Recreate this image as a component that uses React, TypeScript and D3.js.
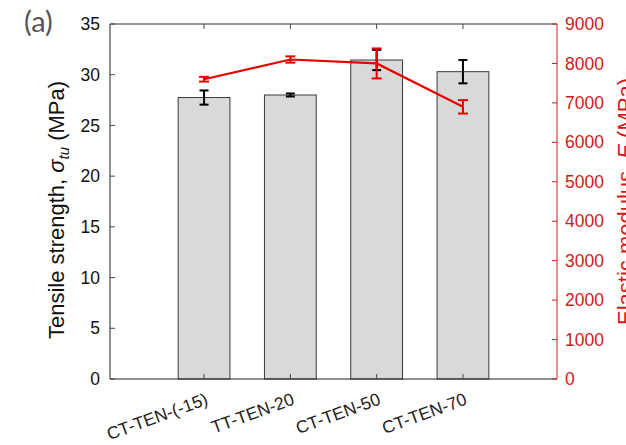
import React from "react";
import * as d3 from "d3";

// Specimen groups and measured properties
const categories = ["CT-TEN-(-15)", "TT-TEN-20", "CT-TEN-50", "CT-TEN-70"];
const strength = [27.75, 28.0, 31.45, 30.3]; // MPa
const strengthErr = [0.7, 0.15, 1.0, 1.15];
const modulus = [7600, 8100, 8000, 6900]; // MPa
const modulusErr = [60, 80, 380, 170];

const leftTicks = [0, 5, 10, 15, 20, 25, 30, 35];
const rightTicks = [0, 1000, 2000, 3000, 4000, 5000, 6000, 7000, 8000, 9000];

const W = 626;
const H = 445;
const plot = { left: 110, right: 557, top: 24, bottom: 379 };
const FONT = "'Liberation Sans', Arial, Helvetica, sans-serif";
const RED_LINE = "#e60000";
const RED_TEXT = "#d11a1a";

export default function App() {
  const idx = categories.map((_, i) => i + 1);
  const x = d3
    .scaleLinear()
    .domain([1 - 1.09, categories.length + 1.09])
    .range([plot.left, plot.right]);
  const yL = d3.scaleLinear().domain([0, 35]).range([plot.bottom, plot.top]);
  const yR = d3.scaleLinear().domain([0, 9000]).range([plot.bottom, plot.top]);
  const barW = x(1.6) - x(1);

  const line = d3
    .line<number>()
    .x((_, i) => x(idx[i]))
    .y((d) => yR(d));

  const cap = 4.5;

  return (
    <svg
      width={W}
      height={H}
      style={{ position: "absolute", left: 0, top: 0, background: "#fff" }}
      fontFamily={FONT}
    >
      <rect x={0} y={0} width={W} height={H} fill="#fff" />

      {/* panel tag */}
      <text x={24} y={32} fontFamily="Lato, 'Open Sans', sans-serif" fontSize={29} fill="#555">
        (a)
      </text>

      {/* bars */}
      {strength.map((v, i) => (
        <rect
          key={"b" + i}
          x={x(idx[i]) - barW / 2}
          y={yL(v)}
          width={barW}
          height={yL(0) - yL(v)}
          fill="#d9d9d9"
          stroke="#3a3a3a"
          strokeWidth={1}
        />
      ))}

      {/* strength error bars */}
      {strength.map((v, i) => {
        const cx = x(idx[i]);
        const y1 = yL(v + strengthErr[i]);
        const y2 = yL(v - strengthErr[i]);
        return (
          <g key={"e" + i} stroke="#000" strokeWidth={2}>
            <line x1={cx} x2={cx} y1={y1} y2={y2} />
            <line x1={cx - cap} x2={cx + cap} y1={y1} y2={y1} />
            <line x1={cx - cap} x2={cx + cap} y1={y2} y2={y2} />
          </g>
        );
      })}

      {/* box: top border, bottom axis, left axis, right axis */}
      <line x1={plot.left} x2={plot.right} y1={plot.top} y2={plot.top} stroke="#333" strokeWidth={1} />
      <line x1={plot.left} x2={plot.right} y1={plot.bottom} y2={plot.bottom} stroke="#222" strokeWidth={1} />
      <line x1={plot.left} x2={plot.left} y1={plot.top} y2={plot.bottom} stroke="#222" strokeWidth={1} />
      <line x1={plot.right} x2={plot.right} y1={plot.top} y2={plot.bottom} stroke={RED_TEXT} strokeWidth={1} />

      {/* x ticks top & bottom */}
      {idx.map((d, i) => (
        <g key={"xt" + i} stroke="#444" strokeWidth={1}>
          <line x1={x(d)} x2={x(d)} y1={plot.bottom} y2={plot.bottom - 5} />
          <line x1={x(d)} x2={x(d)} y1={plot.top} y2={plot.top + 5} />
        </g>
      ))}

      {/* x tick labels */}
      {categories.map((c, i) => {
        const ax = x(idx[i]) + 5;
        const ay = plot.bottom + 25;
        return (
          <text
            key={"xl" + i}
            x={ax}
            y={ay}
            fontSize={17.5}
            fill="#222"
            textAnchor="end"
            transform={`rotate(-20 ${ax} ${ay})`}
          >
            {c}
          </text>
        );
      })}

      {/* left axis ticks */}
      {leftTicks.map((t) => (
        <g key={"lt" + t}>
          <line x1={plot.left} x2={plot.left + 5} y1={yL(t)} y2={yL(t)} stroke="#444" />
          <text x={plot.left - 10} y={yL(t)} dy="0.35em" fontSize={17.5} fill="#111" textAnchor="end">
            {t}
          </text>
        </g>
      ))}

      {/* right axis ticks */}
      {rightTicks.map((t) => (
        <g key={"rt" + t}>
          <line x1={plot.right} x2={plot.right - 5} y1={yR(t)} y2={yR(t)} stroke={RED_TEXT} />
          <text x={plot.right + 8} y={yR(t)} dy="0.35em" fontSize={17.5} fill={RED_TEXT}>
            {t}
          </text>
        </g>
      ))}

      {/* left axis title */}
      <text
        transform={`translate(64, 210) rotate(-90)`}
        textAnchor="middle"
        fontSize={22}
        fill="#111"
      >
        Tensile strength,{" "}
        <tspan fontStyle="italic">σ</tspan>
        <tspan fontStyle="italic" fontSize={15} dy={5}>tu</tspan>
        <tspan dy={-5}> (MPa)</tspan>
      </text>

      {/* right axis title (runs past the page edge) */}
      <text
        transform={`translate(633, 201.5) rotate(-90)`}
        textAnchor="middle"
        fontSize={22}
        fill={RED_TEXT}
      >
        Elastic modulus, <tspan fontStyle="italic">E</tspan> (MPa)
      </text>

      {/* modulus line with error bars */}
      <path d={line(modulus) ?? ""} fill="none" stroke={RED_LINE} strokeWidth={2.2} />
      {modulus.map((v, i) => {
        const cx = x(idx[i]);
        const y1 = yR(v + modulusErr[i]);
        const y2 = yR(v - modulusErr[i]);
        return (
          <g key={"m" + i} stroke={RED_LINE} strokeWidth={2}>
            <line x1={cx} x2={cx} y1={y1} y2={y2} />
            <line x1={cx - 5} x2={cx + 5} y1={y1} y2={y1} />
            <line x1={cx - 5} x2={cx + 5} y1={y2} y2={y2} />
          </g>
        );
      })}
    </svg>
  );
}
